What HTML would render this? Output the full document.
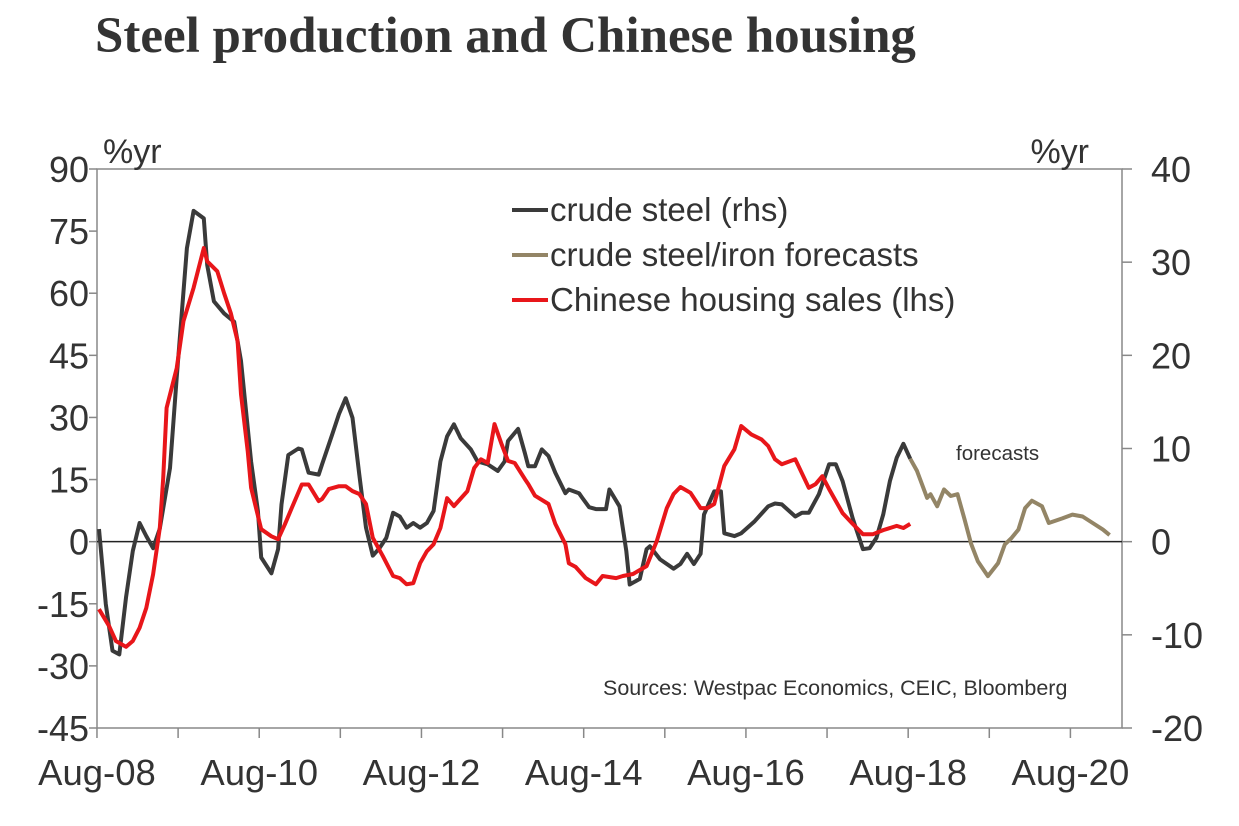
<!DOCTYPE html>
<html><head><meta charset="utf-8"><style>
html,body{margin:0;padding:0;background:#fff;}
svg{display:block;font-family:"Liberation Sans",Arial,sans-serif;}
</style></head><body>
<svg id="chart" width="1239" height="826" viewBox="0 0 1239 826" xmlns="http://www.w3.org/2000/svg">
<text x="95" y="52" font-family="Liberation Serif,serif" font-weight="bold" font-size="51" fill="#333">Steel production and Chinese housing</text>
<g id="axes"></g>
<g id="series"></g>
<text x="103" y="163" font-size="34" fill="#333">%yr</text>
<text x="1089" y="163" font-size="34" fill="#333" text-anchor="end">%yr</text>
<g>
<line x1="512" y1="210" x2="548" y2="210" stroke="#3a3a3a" stroke-width="4"/>
<text x="550" y="221" font-size="33" fill="#333">crude steel (rhs)</text>
<line x1="512" y1="255" x2="548" y2="255" stroke="#938566" stroke-width="4"/>
<text x="550" y="266" font-size="33" fill="#333">crude steel/iron forecasts</text>
<line x1="512" y1="300" x2="548" y2="300" stroke="#e8161a" stroke-width="4"/>
<text x="550" y="311" font-size="33" fill="#333">Chinese housing sales (lhs)</text>
</g>
<text x="956" y="460" font-size="20.5" fill="#333">forecasts</text>
<text x="603" y="695" font-size="21.5" fill="#333">Sources: Westpac Economics, CEIC, Bloomberg</text>
</svg>
<script>
const leftTicks=[90,75,60,45,30,15,0,-15,-30,-45];
const rightTicks=[40,30,20,10,0,-10,-20];
const xTickLabels=["Aug-08","Aug-10","Aug-12","Aug-14","Aug-16","Aug-18","Aug-20"];
const steelMonths=[0,1,2,3,4,5,6,7,8,9,10.5,11.5,13,14,15.5,16,17,18.5,20,21,22.5,23.5,24,25.5,26.5,27,28,29.5,30,31,32.5,33,34.5,35.5,36.5,37.5,38.5,39.5,40.5,41.5,42.5,43.5,44.5,45.5,46.5,47.5,48.5,49.5,50.5,51.5,52.5,53.5,55,56,57.5,59,60,60.5,62,63,63.5,64.5,65.5,66.5,67.5,69,69.5,71,71.5,72.5,73.5,75,75.5,77,78,78.5,80,81,81.5,83,85,86,87,88,89,89.5,91,92,92.5,94,95,97,99,100,101,103,104,105,106.5,108,109,110,111.5,113,114,115,116,117,118,119,120];
const steelValues=[1.35,-6.7,-11.7,-12.1,-6.0,-1.0,2.0,0.6,-0.7,1.4,7.9,17.6,31.5,35.5,34.7,29.7,25.8,24.5,23.6,19.4,8.6,3.3,-1.7,-3.4,-0.8,4.0,9.3,10.0,9.9,7.4,7.2,8.3,11.5,13.7,15.4,13.3,7.2,1.5,-1.5,-0.7,0.4,3.1,2.7,1.5,2.0,1.5,2.0,3.3,8.6,11.3,12.6,11.1,9.9,8.6,8.3,7.6,8.6,10.8,12.1,9.5,8.1,8.1,9.9,9.2,7.4,5.2,5.6,5.2,4.7,3.7,3.5,3.5,5.6,3.8,-1.0,-4.6,-4.0,-0.8,-0.5,-1.9,-2.9,-2.4,-1.3,-2.4,-1.3,2.9,5.4,5.4,0.9,0.6,0.9,2.2,3.8,4.1,4.0,2.7,3.1,3.1,5.1,8.3,8.3,6.5,2.5,-0.8,-0.7,0.4,2.9,6.5,9.0,10.5,8.9];
const fcMonths=[120,121,122.5,123,124,125,126,127,128,129,130,131.5,133,134,135,136,137,138,139.5,140.5,142.5,144,145.5,147,148.5,149.5];
const fcValues=[8.9,7.6,4.7,5.1,3.8,5.6,4.9,5.1,2.5,-0.2,-2.1,-3.7,-2.3,-0.3,0.4,1.3,3.6,4.4,3.8,2.0,2.5,2.9,2.7,2.0,1.3,0.7];
const housingMonths=[0,1.5,2.5,4,5,6,7,8,9,9.5,10,11.5,12.5,14,15.5,16,17.5,18.5,19.5,20.5,21,22,22.5,24,25.5,26.5,27.5,28.5,30,31,32.5,33,34,35.5,36.5,37.5,38.5,39.5,40.5,42,43.5,44.5,45.5,46.5,47.5,48.5,49.5,50.5,51.5,52.5,54.5,55.5,56.5,57.5,58.5,59.5,60.5,61.5,63,63.5,64.5,66.5,67.5,69,69.5,70.5,72,73.5,74.5,76.5,77.5,79,81,82.5,84,85,86,87.5,89,90,91,92.5,94,95,96.5,98,99,100,101,103,105,106,107,108,110,111.5,113,114.5,116,118,119,120];
const housingValues=[-16.3,-20.4,-24.0,-25.4,-24.0,-20.8,-16.0,-7.9,3.3,15.3,32.3,41.9,53.3,61.3,70.9,67.7,65.3,60.0,55.2,48.4,35.6,21.9,13.0,3.0,1.3,0.6,4.2,8.1,13.8,13.8,9.8,10.3,12.7,13.4,13.4,12.2,11.5,9.1,0.9,-3.5,-8.3,-8.8,-10.3,-10.0,-5.2,-2.3,-0.6,3.3,10.5,8.6,12.2,17.8,19.9,19.0,28.4,23.8,19.5,19.0,15.1,13.9,11.1,9.1,4.3,-0.6,-5.2,-6.1,-8.8,-10.3,-8.3,-8.8,-8.3,-7.8,-5.9,0.1,8.1,11.5,13.2,11.8,8.1,8.1,9.1,18.3,22.3,27.9,25.9,24.7,23.1,19.9,18.7,19.9,13.0,13.9,15.8,12.7,6.9,4.3,1.8,1.8,2.8,3.8,3.3,4.3];

const NS="http://www.w3.org/2000/svg";
const L=97,R=1122,T=169,B=728;
const xS=m=>99+m*6.76;
const yL=v=>T+(90-v)*(B-T)/135;
const yR=v=>T+(40-v)*(B-T)/60;
function mk(tag,attrs,parent,txt){const e=document.createElementNS(NS,tag);for(const k in attrs)e.setAttribute(k,attrs[k]);if(txt!==undefined)e.textContent=txt;parent.appendChild(e);return e;}
const ax=document.getElementById('axes');
const frame=mk('path',{d:`M${L},${T}H${R}V${B}H${L}Z`,fill:'none',stroke:'#888','stroke-width':1.5},ax);


leftTicks.forEach(v=>{
  const y=yL(v);
  const t=mk('line',{x1:L-8,x2:L,y1:y,y2:y,stroke:'#888','stroke-width':1.5},ax);
  
  
  const lb=mk('text',{x:89,y:y+13,'text-anchor':'end','font-size':36,fill:'#333'},ax,String(v));
  
  
});
rightTicks.forEach(v=>{
  const y=yR(v);
  const t=mk('line',{x1:R,x2:R+10,y1:y,y2:y,stroke:'#888','stroke-width':1.5},ax);
  
  
  const lb=mk('text',{x:1151,y:y+13,'font-size':36,fill:'#333'},ax,String(v));
  
  
});
for(let k=0;k<=12;k++){
  const x=xS(k*12-0.3);
  const t=mk('line',{x1:x,x2:x,y1:B,y2:B+10,stroke:'#888','stroke-width':1.5},ax);
  
  
}
xTickLabels.forEach((s,i)=>{
  const lb=mk('text',{x:xS(i*24-0.3),y:785,'text-anchor':'middle','font-size':36.5,fill:'#333'},ax,s);
  
  
});
const zl=mk('line',{x1:L,x2:R,y1:yR(0),y2:yR(0),stroke:'#222','stroke-width':1.5},ax);


const sg=document.getElementById('series');
function line(ms,vs,yf){return ms.map((m,i)=>(i?'L':'M')+xS(m).toFixed(1)+','+yf(vs[i]).toFixed(1)).join('');}
const p1=mk('path',{d:line(fcMonths,fcValues,yR),fill:'none',stroke:'#938566','stroke-width':4,'stroke-linejoin':'round'},sg);


const p2=mk('path',{d:line(steelMonths,steelValues,yR),fill:'none',stroke:'#3a3a3a','stroke-width':4,'stroke-linejoin':'round'},sg);


const p3=mk('path',{d:line(housingMonths,housingValues,yL),fill:'none',stroke:'#e8161a','stroke-width':4,'stroke-linejoin':'round'},sg);


</script>
</body></html>
